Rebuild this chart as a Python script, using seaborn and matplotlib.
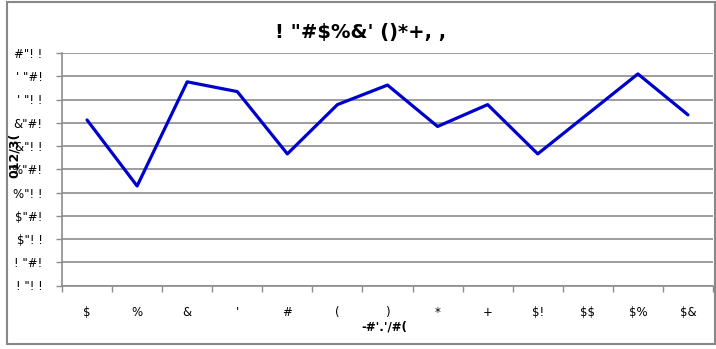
import matplotlib
matplotlib.use("Agg")
import matplotlib.pyplot as plt
import matplotlib.patches as mpatches
import numpy as np
import pandas as pd
import seaborn as sns

TITLE = "! \"#$%&' ()*+, ,"
X_TITLE = "-#'.'/#("
Y_TITLE = "012/3("
categories = ["$", "%", "&", "'", "#", "(", ")", "*", "+", "$!", "$$", "$%", "$&"]
values = [3.56, 2.14, 4.38, 4.17, 2.83, 3.89, 4.31, 3.42, 3.89, 2.83, 3.69, 4.55, 3.67]
y_ticks = [0.0, 0.5, 1.0, 1.5, 2.0, 2.5, 3.0, 3.5, 4.0, 4.5, 5.0]
y_tick_labels = ["! \"! !", "! \"#!", "$\"! !", "$\"#!", "%\"! !", "%\"#!",
                 "&\"! !", "&\"#!", "' \"! !", "' \"#!", "#\"! !"]


def main():
    df = pd.DataFrame({"cat": categories, "val": values})
    sns.set_style("white")
    plt.rcParams["font.family"] = ["DejaVu Sans"]
    plt.rcParams["text.parse_math"] = False
    plt.rcParams["text.color"] = "black"
    plt.rcParams["xtick.color"] = "black"
    plt.rcParams["ytick.color"] = "black"
    plt.rcParams["axes.labelcolor"] = "black"

    fig = plt.figure(figsize=(7.16, 3.49), dpi=100)
    ax = fig.add_axes([62 / 716, 63.5 / 349, 651 / 716, 232.5 / 349])

    # outer chart border
    fig.patches.append(mpatches.Rectangle((7 / 716, 5 / 349), 708 / 716, 342 / 349,
                                          transform=fig.transFigure, fill=False,
                                          edgecolor="#888888", linewidth=1.5))

    ax.set_ylim(0, 5)
    ax.set_yticks(y_ticks)
    ax.yaxis.grid(True, color="#8c8c8c", linewidth=1.2)
    ax.set_axisbelow(True)

    sns.lineplot(data=df, x="cat", y="val", ax=ax, color="#0000CC",
                 linewidth=2.3, sort=False)

    ax.set_xlim(-0.5, len(categories) - 0.5)
    ax.set_xticks(np.arange(len(categories)))
    ax.set_xticklabels(categories, fontsize=8.5)
    ax.set_xticks(np.arange(len(categories) + 1) - 0.5, minor=True)
    ax.tick_params(axis="x", which="major", length=0, pad=15)
    ax.tick_params(axis="x", which="minor", length=4, width=1, color="#8c8c8c",
                   direction="out", bottom=True)
    ax.set_yticklabels(y_tick_labels, fontsize=8.5)
    ax.tick_params(axis="y", length=4, width=1, color="#8c8c8c", pad=10, left=True)

    for side in ["top", "right"]:
        ax.spines[side].set_visible(False)
    for side in ["left", "bottom"]:
        ax.spines[side].set_color("#8c8c8c")
        ax.spines[side].set_linewidth(1.2)

    ax.set_title(TITLE, fontsize=14, fontweight="bold", pad=11, x=0.458)
    ax.set_xlabel(X_TITLE, fontsize=8.5, fontweight="bold")
    ax.xaxis.set_label_coords(0.495, -0.15)
    ax.set_ylabel(Y_TITLE, fontsize=9, fontweight="bold")
    ax.yaxis.set_label_coords(-0.063, 0.56)

    fig.savefig("out.png", dpi=100)


if __name__ == "__main__":
    main()
